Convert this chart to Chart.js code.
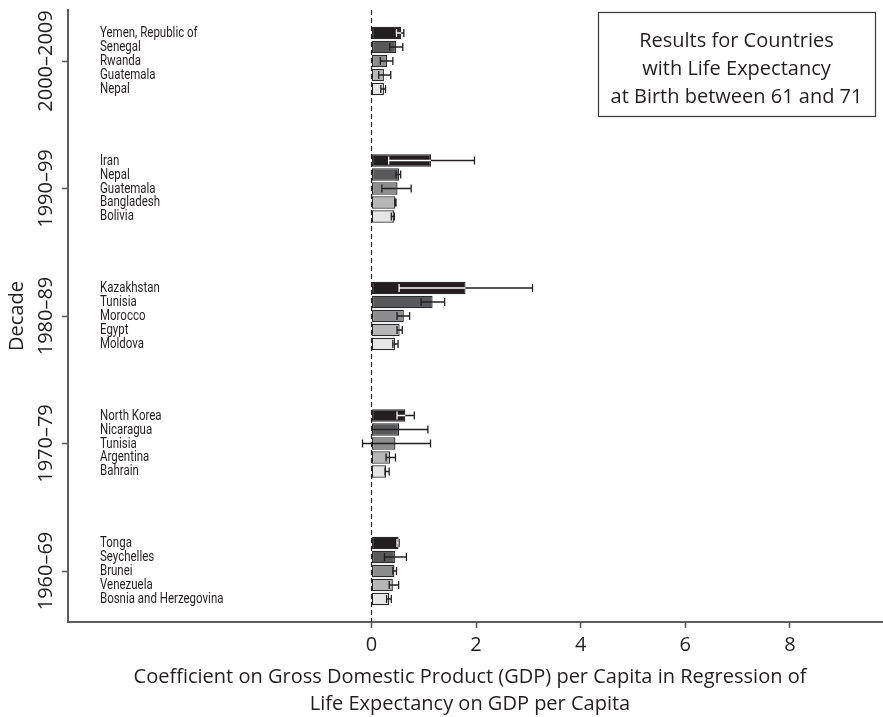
<!DOCTYPE html>
<html>
<head>
<meta charset="utf-8">
<script src="https://cdn.jsdelivr.net/npm/chart.js@4/dist/chart.umd.min.js"></script>
<style>
  html, body { margin: 0; padding: 0; background: #ffffff; }
  #wrap { width: 883px; height: 717px; position: relative; }
</style>
</head>
<body>
<div id="wrap"><canvas id="c" width="883" height="717"></canvas></div>
<script>
// Decades, top to bottom
const decades = ['2000–2009', '1990–99', '1980–89', '1970–79', '1960–69'];

// Five countries per decade, ranked by coefficient
const countries = [
  ['Yemen, Republic of', 'Senegal', 'Rwanda', 'Guatemala', 'Nepal'],
  ['Iran', 'Nepal', 'Guatemala', 'Bangladesh', 'Bolivia'],
  ['Kazakhstan', 'Tunisia', 'Morocco', 'Egypt', 'Moldova'],
  ['North Korea', 'Nicaragua', 'Tunisia', 'Argentina', 'Bahrain'],
  ['Tonga', 'Seychelles', 'Brunei', 'Venezuela', 'Bosnia and Herzegovina']
];

// Coefficient on GDP per capita
const coefficients = [
  [0.57, 0.47, 0.30, 0.24, 0.24],
  [1.14, 0.53, 0.50, 0.46, 0.43],
  [1.80, 1.17, 0.62, 0.54, 0.45],
  [0.65, 0.53, 0.46, 0.36, 0.28],
  [0.52, 0.45, 0.44, 0.41, 0.34]
];

// Confidence interval bounds
const ciLower = [
  [0.48, 0.35, 0.17, 0.14, 0.18],
  [0.33, 0.47, 0.20, 0.45, 0.38],
  [0.53, 0.95, 0.49, 0.49, 0.41],
  [0.49, 0.02, -0.17, 0.28, 0.26],
  [0.49, 0.25, 0.41, 0.34, 0.29]
];
const ciUpper = [
  [0.62, 0.60, 0.41, 0.37, 0.27],
  [1.97, 0.56, 0.76, 0.47, 0.44],
  [3.08, 1.40, 0.73, 0.59, 0.51],
  [0.82, 1.08, 1.13, 0.46, 0.34],
  [0.53, 0.67, 0.48, 0.52, 0.38]
];

const xTickValues = [0, 2, 4, 6, 8];

const xTitleLines = [
  'Coefficient on Gross Domestic Product (GDP) per Capita in Regression of',
  'Life Expectancy on GDP per Capita'
];
const yTitle = 'Decade';
const noteLines = [
  'Results for Countries',
  'with Life Expectancy',
  'at Birth between 61 and 71'
];

// Fill shade for each rank within a decade (darkest = highest)
const rankFills = ['#231f20', '#58595b', '#8b8d8f', '#b4b6b8', '#e5e6e7'];

const INK = '#231f20';
const AXIS = '#5e5e5e';
const SANS = '"Open Sans", "Noto Sans", sans-serif';

const datasets = rankFills.map((fill, r) => ({
  label: 'Rank ' + (r + 1),
  data: decades.map((d, i) => ({ x: coefficients[i][r], y: decades.length - i })),
  backgroundColor: fill,
  borderColor: '#2a2a2a',
  borderWidth: 1.3,
  borderSkipped: false,
  categoryPercentage: 0.549,
  barPercentage: 0.9
}));

const annotate = {
  id: 'annotate',
  beforeDatasetsDraw(chart) {
    const { ctx, chartArea, scales } = chart;
    const x0 = Math.round(scales.x.getPixelForValue(0)) + 0.5;
    ctx.save();
    ctx.strokeStyle = INK;
    ctx.lineWidth = 1.2;
    ctx.setLineDash([5, 3]);
    ctx.beginPath();
    ctx.moveTo(x0, chartArea.top);
    ctx.lineTo(x0, chartArea.bottom);
    ctx.stroke();
    ctx.restore();
  },
  afterDatasetsDraw(chart) {
    const { ctx, scales } = chart;
    const xs = scales.x;
    const whisker = (x1, x2, y, color) => {
      ctx.strokeStyle = color;
      ctx.lineWidth = 1.3;
      ctx.beginPath();
      ctx.moveTo(x1, y); ctx.lineTo(x2, y);
      ctx.moveTo(x1, y - 4); ctx.lineTo(x1, y + 4);
      ctx.moveTo(x2, y - 4); ctx.lineTo(x2, y + 4);
      ctx.stroke();
    };
    ctx.save();
    datasets.forEach((ds, r) => {
      const meta = chart.getDatasetMeta(r);
      meta.data.forEach((bar, i) => {
        const x1 = xs.getPixelForValue(ciLower[i][r]);
        const x2 = xs.getPixelForValue(ciUpper[i][r]);
        const y = bar.y;
        whisker(x1, x2, y, INK);
        if (r === 0) {
          // inside the darkest bar the interval shows in white
          const p = bar.getProps(['x', 'y', 'base', 'height'], true);
          ctx.save();
          ctx.beginPath();
          ctx.rect(Math.min(p.base, p.x), p.y - p.height / 2, Math.abs(p.x - p.base), p.height);
          ctx.clip();
          whisker(x1, x2, y, '#ffffff');
          ctx.restore();
        }
      });
    });
    ctx.restore();
  },
  afterDraw(chart) {
    const { ctx, chartArea, scales } = chart;
    ctx.save();
    ctx.fillStyle = INK;

    // country names beside each bar
    ctx.font = '14px Roboto, "Liberation Sans", sans-serif';
    ctx.textAlign = 'left';
    ctx.textBaseline = 'middle';
    datasets.forEach((ds, r) => {
      chart.getDatasetMeta(r).data.forEach((bar, i) => {
        ctx.save();
        ctx.translate(100, bar.y);
        ctx.scale(0.82, 1);
        ctx.fillText(countries[i][r], 0, 0.5);
        ctx.restore();
      });
    });

    // decade labels, rotated
    ctx.font = '20px ' + SANS;
    ctx.textAlign = 'center';
    ctx.textBaseline = 'middle';
    decades.forEach((d, i) => {
      const y = scales.y.getPixelForValue(decades.length - i);
      ctx.save();
      ctx.translate(46, y);
      ctx.rotate(-Math.PI / 2);
      ctx.fillText(d, 0, 0);
      ctx.restore();
    });

    // y axis title
    ctx.save();
    ctx.translate(17, (chartArea.top + chartArea.bottom) / 2);
    ctx.rotate(-Math.PI / 2);
    ctx.fillText(yTitle, 0, 0);
    ctx.restore();

    // x axis title
    ctx.font = '20px ' + SANS;
    xTitleLines.forEach((t, k) => ctx.fillText(t, 470, 677 + k * 27));

    // note box
    ctx.strokeStyle = '#3a3a3a';
    ctx.lineWidth = 1.2;
    ctx.strokeRect(598.5, 12.5, 277, 104);
    ctx.font = '20px ' + SANS;
    noteLines.forEach((t, k) => ctx.fillText(t, 736.5, 41 + k * 28));

    ctx.restore();
  }
};

new Chart(document.getElementById('c'), {
  type: 'bar',
  data: { datasets },
  options: {
    indexAxis: 'y',
    responsive: false,
    animation: false,
    events: [],
    layout: { padding: { top: 10, right: 0, left: 0, bottom: 0 } },
    plugins: { legend: { display: false }, tooltip: { enabled: false } },
    scales: {
      x: {
        type: 'linear',
        min: -5.8,
        max: 9.78,
        afterBuildTicks: s => { s.ticks = xTickValues.map(v => ({ value: v })); },
        afterFit: s => { s.height = 95; },
        grid: { drawOnChartArea: false, drawTicks: true, tickLength: 6, tickColor: AXIS, tickWidth: 1.6 },
        border: { color: AXIS, width: 2 },
        ticks: { color: INK, font: { family: SANS, size: 20 }, padding: 5 }
      },
      y: {
        type: 'linear',
        offset: false,
        min: 0.6,
        max: 5.4,
        afterBuildTicks: s => { s.ticks = decades.map((d, i) => ({ value: decades.length - i })); },
        afterFit: s => { s.width = 68; },
        grid: { offset: false, drawOnChartArea: false, drawTicks: true, tickLength: 6, tickColor: AXIS, tickWidth: 1.6 },
        border: { color: AXIS, width: 2 },
        ticks: { display: false }
      }
    }
  },
  plugins: [annotate]
});
</script>
</body>
</html>
